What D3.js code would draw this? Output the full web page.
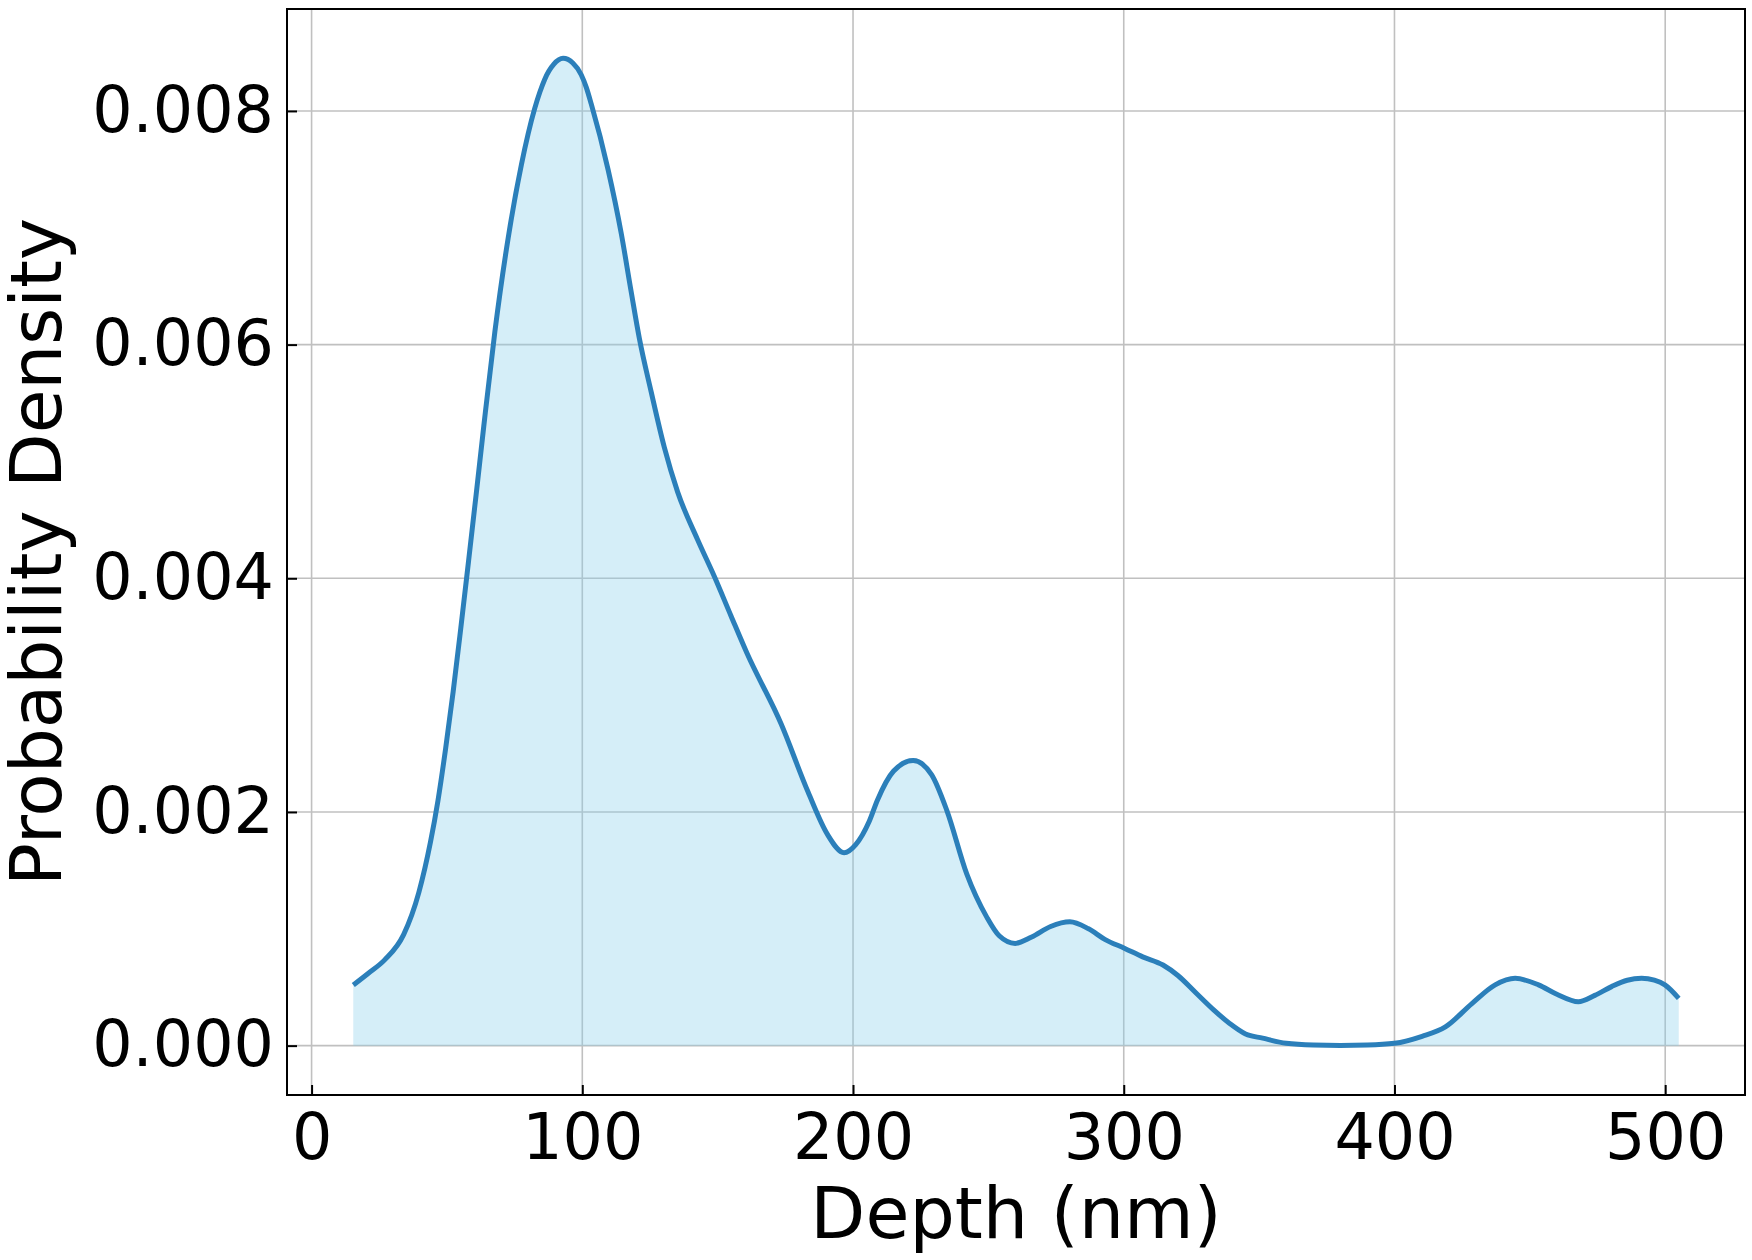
<!DOCTYPE html>
<html>
<head>
<meta charset="utf-8">
<script src="https://cdn.jsdelivr.net/npm/d3@7"></script>
<style>
  body { margin: 0; background: #fff; }
  svg text { font-family: "DejaVu Sans", sans-serif; fill: #000; }
</style>
</head>
<body>
<svg id="chart" width="1752" height="1260"></svg>
<script>
// KDE curve
var depth = [15.4, 21, 27, 34, 39.6, 43.9, 46.7, 49.5, 52.3, 55.1, 58, 60.8, 63.6, 67.7, 72.6, 77.5,
  82.4, 84.3, 86.1, 89.5, 92.9, 96.5, 99.6, 101.5, 103.3, 109.5, 114.4, 118, 121.1, 125.4, 130.3,
  135.2, 142.6, 148.7, 154.9, 160.8, 173.5, 183.4, 190.5, 196.7, 201, 206, 209, 215, 222.2, 229,
  234.7, 242, 249.4, 254, 259.9, 266, 273, 280.1, 287, 293, 300.4, 307, 314.5, 320, 326.8, 333,
  339, 345, 351.3, 360, 370, 380, 390, 400, 410.2, 418.8, 428.6, 437.2, 444.6, 453.2, 460, 467.9,
  474, 480.2, 486, 491.3, 496, 499.9, 505];
var density = [0.000519, 0.00062, 0.000734, 0.00095, 0.00131, 0.00174, 0.0021, 0.00254, 0.00303,
  0.00357, 0.00415, 0.00472, 0.0053, 0.00611, 0.00691, 0.00754, 0.00802, 0.00816, 0.00827, 0.0084,
  0.00845, 0.00841, 0.00831, 0.0082, 0.00806, 0.0075, 0.00695, 0.00646, 0.00605, 0.0056, 0.00512,
  0.00474, 0.00433, 0.00402, 0.00368, 0.00336, 0.00275, 0.00217, 0.00181, 0.00165, 0.00172,
  0.00192, 0.0021, 0.00235, 0.00244, 0.00232, 0.00201, 0.00147, 0.0011, 0.00094, 0.000875,
  0.00093, 0.00102, 0.00106, 0.001, 0.00091, 0.000832, 0.00076, 0.00069, 0.0006, 0.000448,
  0.00031, 0.000192, 0.0001, 0.000064, 0.00002, 0.000005, 0.000002, 0.000005, 0.00002, 0.00008,
  0.00016, 0.00036, 0.00052, 0.000576, 0.00052, 0.00044, 0.000376, 0.00043, 0.000505, 0.00056,
  0.000576, 0.00056, 0.00052, 0.000405];
var xTicks = [0, 100, 200, 300, 400, 500];
var yTicks = [0, 0.002, 0.004, 0.006, 0.008];

var svg = d3.select("#chart"),
    margin = {top: 9, right: 7, bottom: 165, left: 287},
    width = +svg.attr("width") - margin.left - margin.right,
    height = +svg.attr("height") - margin.top - margin.bottom;

var data = depth.map(function(d, i){ return {x: d, y: density[i]}; });

// matplotlib style 5% margins
var xPad = (d3.max(depth) - d3.min(depth)) * 0.05,
    yPad = d3.max(density) * 0.05;
var x = d3.scaleLinear().domain([d3.min(depth) - xPad, d3.max(depth) + xPad]).range([0, width]),
    y = d3.scaleLinear().domain([-yPad, d3.max(density) + yPad]).range([height, 0]);

var g = svg.append("g").attr("transform", "translate(" + margin.left + "," + margin.top + ")");

// grid
g.append("g").selectAll("line").data(xTicks).enter().append("line")
  .attr("x1", function(d){ return x(d); }).attr("x2", function(d){ return x(d); })
  .attr("y1", 0).attr("y2", height)
  .attr("stroke", "#c0c0c0").attr("stroke-width", 1.6);
g.append("g").selectAll("line").data(yTicks).enter().append("line")
  .attr("y1", function(d){ return y(d); }).attr("y2", function(d){ return y(d); })
  .attr("x1", 0).attr("x2", width)
  .attr("stroke", "#c0c0c0").attr("stroke-width", 1.6);

var area = d3.area()
  .x(function(d){ return x(d.x); })
  .y0(y(0))
  .y1(function(d){ return y(d.y); })
  .curve(d3.curveMonotoneX);
var line = d3.line()
  .x(function(d){ return x(d.x); })
  .y(function(d){ return y(d.y); })
  .curve(d3.curveMonotoneX);

g.append("path").datum(data).attr("d", area)
  .attr("fill", "#87ceeb").attr("fill-opacity", 0.35);
g.append("path").datum(data).attr("d", line)
  .attr("fill", "none").attr("stroke", "#2b7fba").attr("stroke-width", 5)
  .attr("stroke-linejoin", "round");

// axes, ticks pointing in
var xAxis = d3.axisBottom(x).tickValues(xTicks).tickSize(-10).tickPadding(19).tickFormat(d3.format("d"));
var yAxis = d3.axisLeft(y).tickValues(yTicks).tickSize(-10).tickPadding(13).tickFormat(d3.format(".3f"));

var gx = g.append("g").attr("transform", "translate(0," + height + ")").call(xAxis);
var gy = g.append("g").call(yAxis);
[gx, gy].forEach(function(a){
  a.select(".domain").remove();
  a.selectAll(".tick line").attr("stroke", "#000").attr("stroke-width", 2);
  a.selectAll(".tick text").style("font-size", "63.5px").style("font-family", "DejaVu Sans");
});

// frame
g.append("rect").attr("width", width).attr("height", height)
  .attr("fill", "none").attr("stroke", "#000").attr("stroke-width", 2);

svg.append("text")
  .attr("x", margin.left + width / 2).attr("y", 1238)
  .attr("text-anchor", "middle").style("font-size", "71.5px")
  .text("Depth (nm)");

svg.append("text")
  .attr("transform", "translate(61," + (margin.top + height / 2) + ") rotate(-90)")
  .attr("text-anchor", "middle").style("font-size", "71px")
  .text("Probability Density");
</script>
</body>
</html>
